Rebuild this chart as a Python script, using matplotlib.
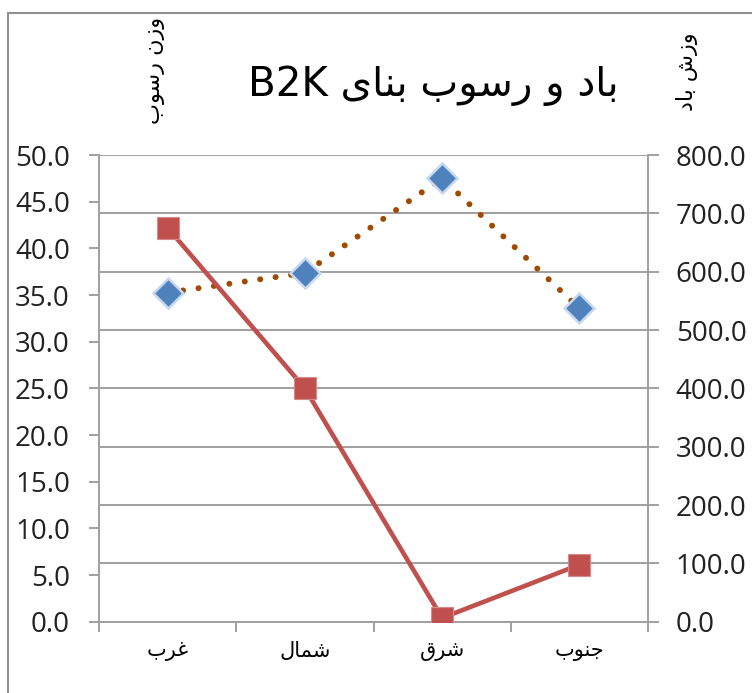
import numpy as np
import matplotlib.pyplot as plt
from matplotlib.patches import Rectangle

# data
cats = ['غرب', 'شمال', 'شرق', 'جنوب']
rosub = [42.2, 25.0, 0.4, 6.1]        # left axis (red squares)
wind = [564, 598, 760, 537]           # right axis (blue diamonds)
title_fa = 'باد و رسوب بنای'
title_en = 'B2K'
ylab_left = 'وزن رسوب'
ylab_right = 'وزش باد'
left_ticks = np.arange(0, 51, 5)
right_ticks = np.arange(0, 801, 100)

# no bidi / shaping in matplotlib -> map to presentation forms and reverse
FORMS = {
    'ا': ('\ufe8d', '\ufe8e'),
    'ب': ('\ufe8f', '\ufe90', '\ufe91', '\ufe92'),
    'د': ('\ufea9', '\ufeaa'),
    'و': ('\ufeed', '\ufeee'),
    'ر': ('\ufead', '\ufeae'),
    'ز': ('\ufeaf', '\ufeb0'),
    'س': ('\ufeb1', '\ufeb2', '\ufeb3', '\ufeb4'),
    'ش': ('\ufeb5', '\ufeb6', '\ufeb7', '\ufeb8'),
    'ن': ('\ufee5', '\ufee6', '\ufee7', '\ufee8'),
    'ی': ('\ufeef', '\ufef0', '\ufef3', '\ufef4'),
    'غ': ('\ufecd', '\ufece', '\ufecf', '\ufed0'),
    'م': ('\ufee1', '\ufee2', '\ufee3', '\ufee4'),
    'ل': ('\ufedd', '\ufede', '\ufedf', '\ufee0'),
    'ق': ('\ufed5', '\ufed6', '\ufed7', '\ufed8'),
    'ج': ('\ufe9d', '\ufe9e', '\ufe9f', '\ufea0'),
}

def fa(text):
    out = []
    for i, c in enumerate(text):
        f = FORMS.get(c)
        if f is None:
            out.append(c)
            continue
        prev = text[i-1] if i > 0 else ''
        nxt = text[i+1] if i + 1 < len(text) else ''
        jp = prev in FORMS and len(FORMS[prev]) == 4
        jn = nxt in FORMS and len(f) == 4
        if jp and jn:
            out.append(f[3])
        elif jp:
            out.append(f[1])
        elif jn:
            out.append(f[2])
        else:
            out.append(f[0])
    return ''.join(out[::-1])

plt.rcParams['font.family'] = ['Open Sans', 'DejaVu Sans']
gray = '#a0a0a0'

fig = plt.figure(figsize=(7.52, 6.93), dpi=100)
ax = fig.add_axes([99/752, 71.3/693, 549/752, 466.7/693])
ax2 = ax.twinx()
ax.set_zorder(ax2.get_zorder() + 1)
ax.patch.set_visible(False)

x = np.arange(len(cats))
ax2.plot(x, wind, color='#a04a00', lw=4.3, linestyle=(0, (0.01, 2.6)),
         dash_capstyle='round', zorder=2)
ax2.plot(x, wind, linestyle='none', marker='D', ms=15.5, mfc='#4f81bd',
         mec='#c6d9f1', mew=1.8, zorder=3)
ax.plot(x, rosub, color='#c0504d', lw=3.3, marker='s', ms=16,
        mfc='#c0504d', mec='#d88a88', mew=0.8, zorder=3)

ax.set_xlim(-0.5, 3.5)
ax.set_ylim(0, 50)
ax2.set_ylim(0, 800)
ax.set_yticks(left_ticks, labels=['%.1f' % v for v in left_ticks])
ax2.set_yticks(right_ticks, labels=['%.1f' % v for v in right_ticks])
ax.set_xticks(np.arange(-0.5, 4, 1), labels=[''] * 5)
ax.set_xticks(x, labels=[fa(c) for c in cats], minor=True)

ax2.grid(axis='y', color=gray, lw=1.4)
ax2.set_axisbelow(True)

for a in (ax, ax2):
    for s in a.spines.values():
        s.set_visible(False)
    a.tick_params(colors=gray, labelcolor='#222222', width=1.4)
ax.spines['left'].set_visible(True)
ax.spines['bottom'].set_visible(True)
ax2.spines['right'].set_visible(True)
for s in (ax.spines['left'], ax.spines['bottom'], ax2.spines['right']):
    s.set_color(gray)
    s.set_linewidth(1.4)

ax.tick_params(axis='y', length=7, pad=14, labelsize=20)
ax2.tick_params(axis='y', length=8, pad=12, labelsize=20)
ax.tick_params(axis='x', which='major', length=7)
ax.tick_params(axis='x', which='minor', length=0, pad=14, labelsize=15)
for t in ax.get_xticklabels(minor=True):
    t.set_fontfamily('DejaVu Sans')

fig.text(433/752, 1 - 86/693, title_en + ' ' + fa(title_fa), ha='center',
         va='center', fontsize=29, family=['Liberation Sans Narrow', 'DejaVu Sans'])
fig.text(155/752, 1 - 70/693, fa(ylab_left), rotation=90, ha='center',
         va='center', fontsize=16, family='DejaVu Sans')
fig.text(687/752, 1 - 72/693, fa(ylab_right), rotation=90, ha='center',
         va='center', fontsize=16, family='DejaVu Sans')

fig.patches.append(Rectangle((8/752, -0.1), 1.2, 1.1 - 13/693, transform=fig.transFigure,
                             fill=False, edgecolor='#909090', lw=1.5))

fig.savefig('out.png', dpi=100)
